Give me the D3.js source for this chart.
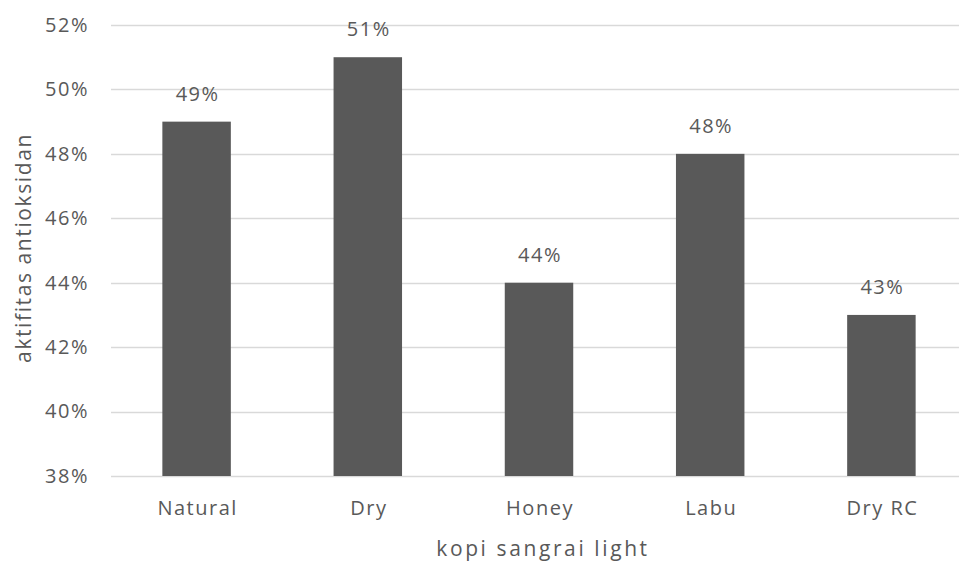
<!DOCTYPE html>
<html>
<head>
<meta charset="utf-8">
<script src="https://cdn.jsdelivr.net/npm/d3@7"></script>
<style>
  body { margin: 0; background: #fff; }
  text { font-family: "Open Sans", "DejaVu Sans", sans-serif; fill: #595959; }
</style>
</head>
<body>
<div id="chart"></div>
<script>
// data
const categories = ["Natural", "Dry", "Honey", "Labu", "Dry RC"];
const values = [49, 51, 44, 48, 43];
const yTicks = [38, 40, 42, 44, 46, 48, 50, 52];

const width = 959, height = 563;
const margin = { top: 25, right: -8, bottom: 87, left: 111 };

const svg = d3.select("#chart").append("svg")
    .attr("width", width)
    .attr("height", height);

const x = d3.scaleBand()
    .domain(categories)
    .range([margin.left, width - margin.right])
    .paddingInner(0.6)
    .paddingOuter(0.3);

const y = d3.scaleLinear()
    .domain([38, 52])
    .range([height - margin.bottom, margin.top]);

// gridlines
svg.append("g")
    .selectAll("line")
    .data(yTicks)
    .join("line")
    .attr("x1", margin.left)
    .attr("x2", width)
    .attr("y1", d => Math.round(y(d)) + 0.5)
    .attr("y2", d => Math.round(y(d)) + 0.5)
    .attr("stroke", "#d9d9d9")
    .attr("stroke-width", 1.5);

// y axis labels
const yAxis = d3.axisLeft(y).tickValues(yTicks).tickFormat(d => d + "%").tickSize(0).tickPadding(0);
svg.append("g")
    .attr("transform", `translate(${margin.left - 22},0)`)
    .call(yAxis)
    .call(g => {
        g.select(".domain").remove();
        g.selectAll("text")
            .attr("fill", "#595959")
            .style("font-size", "20px")
            .style("letter-spacing", "1.5px")
            .style("font-family", null);
    });

// bars
svg.append("g")
    .selectAll("rect")
    .data(values)
    .join("rect")
    .attr("x", (d, i) => x(categories[i]))
    .attr("width", x.bandwidth())
    .attr("y", d => y(d))
    .attr("height", d => y(38) - y(d))
    .attr("fill", "#595959");

// data labels
svg.append("g")
    .selectAll("text")
    .data(values)
    .join("text")
    .attr("x", (d, i) => x(categories[i]) + x.bandwidth() / 2 + 1)
    .attr("y", d => y(d) - 21)
    .attr("text-anchor", "middle")
    .style("font-size", "20px")
    .style("letter-spacing", "1.5px")
    .text(d => d + "%");

// x axis labels
const xAxis = d3.axisBottom(x).tickSize(0).tickPadding(0);
svg.append("g")
    .attr("transform", `translate(1,${y(38) + 39})`)
    .call(xAxis)
    .call(g => {
        g.select(".domain").remove();
        g.selectAll("text")
            .attr("fill", "#595959")
            .attr("dy", "0")
            .style("font-size", "20px")
            .style("letter-spacing", "1.5px")
            .style("font-family", null);
    });

// axis titles
svg.append("text")
    .attr("x", 543)
    .attr("y", 556)
    .attr("text-anchor", "middle")
    .style("font-size", "21px")
    .style("letter-spacing", "2.6px")
    .text("kopi sangrai light");

svg.append("text")
    .attr("transform", `translate(31,248) rotate(-90)`)
    .attr("text-anchor", "middle")
    .style("font-size", "21px")
    .style("letter-spacing", "1.6px")
    .text("aktifitas antioksidan");
</script>
</body>
</html>
